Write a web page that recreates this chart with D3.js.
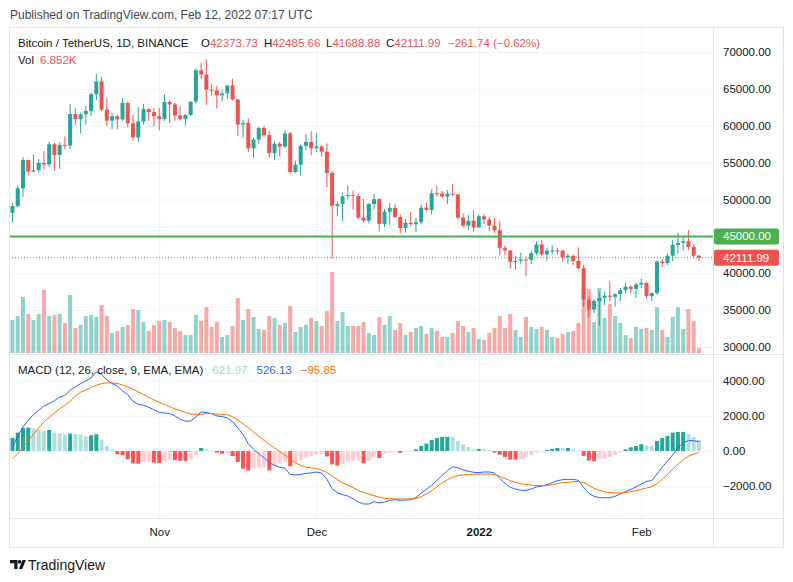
<!DOCTYPE html>
<html>
<head>
<meta charset="utf-8">
<script src="https://cdn.jsdelivr.net/npm/d3@7"></script>
<style>
  body { margin: 0; background: #fff; }
  svg { display: block; font-family: "Liberation Sans", Arial, sans-serif; }
</style>
</head>
<body>
<svg id="chart" width="793" height="582"></svg>
<script>
// ---- data (BTC/USDT daily, Binance) ----
var firstDay = new Date(Date.UTC(2021, 9, 4));
var lastDay = new Date(Date.UTC(2022, 1, 12));

var opens = [
  48200, 49113, 51514, 55361, 53805, 53967, 54968, 54771, 57484, 56041,
  57401, 57321, 61593, 60892, 61553, 62010, 64280, 66002, 62194, 60688,
  61286, 60852, 63078, 60328, 58413, 60575, 62253, 61859, 61300, 60911,
  63219, 62896, 61395, 60937, 61470, 63273, 67525, 66947, 64882, 64774,
  64122, 64380, 65466, 63557, 60161, 60368, 56942, 58119, 59697, 58730,
  56289, 57570, 57176, 58960, 53727, 54722, 57275, 57806, 56950, 57184,
  56481, 53601, 49153, 49397, 50441, 50589, 50472, 47546, 47140, 49390,
  50054, 46703, 48344, 48864, 47632, 46131, 46835, 46681, 46915, 48890,
  48589, 50839, 50820, 50400, 50775, 50701, 47543, 46464, 47120, 46216,
  47722, 47286, 46446, 45832, 43451, 43082, 41566, 41679, 41864, 41822,
  42729, 43902, 42560, 43059, 43084, 43071, 42201, 42352, 41660, 40680,
  36445, 35071, 36244, 36660, 36958, 36809, 37160, 37716, 38166, 37881,
  38466, 38690, 36896, 37311, 41574, 41382, 42380, 43840, 44118, 44338,
  43565, 42373.73
];
var highs = [
  49536, 51886, 55750, 55400, 56100, 55489, 56561, 57839, 57680, 57751,
  58550, 62933, 62360, 61720, 62674, 64486, 67000, 66639, 63732, 61747,
  61490, 63710, 63293, 61497, 62499, 62980, 62359, 62405, 62437, 64270,
  63500, 63086, 62595, 61560, 63286, 67789, 68530, 69000, 65600, 65460,
  64915, 65495, 66401, 63617, 60817, 60976, 58366, 59859, 60000, 59266,
  57875, 57800, 59398, 59176, 55281, 57445, 58865, 59249, 59041, 57375,
  57600, 53904, 49700, 50891, 51936, 51200, 50797, 50099, 49485, 50777,
  50189, 48700, 49500, 49436, 48004, 47360, 48300, 47537, 49328, 49576,
  51375, 51869, 51156, 51281, 52088, 50704, 48119, 47900, 48548, 47954,
  47990, 47570, 47505, 47070, 43748, 43145, 42300, 42786, 42248, 43100,
  44322, 44500, 43459, 43800, 43475, 43176, 42691, 42559, 43505, 41100,
  36835, 36499, 37550, 37545, 38919, 37234, 38000, 38720, 38359, 38744,
  39265, 38855, 37387, 41772, 41913, 42656, 44500, 45492, 44799, 45821,
  43920, 42485.66
];
var lows = [
  46891, 49000, 50382, 53357, 53650, 53661, 54080, 54415, 53879, 54167,
  56818, 56850, 60122, 58963, 60150, 61322, 63481, 62000, 60000, 59562,
  59510, 60650, 59817, 58000, 57820, 60174, 60673, 59945, 59405, 60624,
  60382, 60677, 60721, 60050, 61322, 63000, 66382, 62822, 64100, 62333,
  63303, 63647, 63400, 58574, 58373, 56474, 55625, 57469, 58486, 55679,
  55317, 55837, 57000, 53500, 53610, 53256, 56666, 56000, 56458, 55777,
  51680, 42000, 47727, 47100, 50039, 48600, 47320, 46852, 46751, 48639,
  45672, 46290, 46547, 47511, 45456, 45500, 46406, 45558, 46630, 48421,
  47920, 50387, 50171, 49412, 50449, 47313, 46201, 45900, 45678, 46208,
  46654, 45696, 45500, 42500, 42430, 40610, 40501, 41200, 39650, 41268,
  42450, 42311, 41725, 42578, 42581, 41540, 41250, 41138, 40553, 35440,
  34008, 34601, 32917, 35701, 36234, 35507, 36155, 37268, 37351, 36632,
  38000, 36586, 36250, 37055, 40843, 41116, 41645, 42666, 43117, 43174,
  42000, 41688.88
];
var closes = [
  49113, 51514, 55361, 53805, 53967, 54968, 54771, 57484, 56041, 57401,
  57321, 61593, 60892, 61553, 62010, 64280, 66002, 62194, 60688, 61286,
  60852, 63078, 60328, 58413, 60575, 62253, 61859, 61300, 60911, 63219,
  62896, 61395, 60937, 61470, 63273, 67525, 66947, 64882, 64774, 64122,
  64380, 65466, 63557, 60161, 60368, 56942, 58119, 59697, 58730, 56289,
  57570, 57176, 58960, 53727, 54722, 57275, 57806, 56950, 57184, 56481,
  53601, 49153, 49397, 50441, 50589, 50472, 47546, 47140, 49390, 50054,
  46703, 48344, 48864, 47632, 46131, 46835, 46681, 46915, 48890, 48589,
  50839, 50820, 50400, 50775, 50701, 47543, 46464, 47120, 46216, 47722,
  47286, 46446, 45832, 43451, 43082, 41566, 41679, 41864, 41822, 42729,
  43902, 42560, 43059, 43084, 43071, 42201, 42352, 41660, 40680, 36445,
  35071, 36244, 36660, 36958, 36809, 37160, 37716, 38166, 37881, 38466,
  38690, 36896, 37311, 41574, 41382, 42380, 43840, 44118, 44338, 43565,
  42373.73, 42111.99
];
// volume in thousands of BTC
var volumes = [
  43.6, 48.8, 73.9, 51.5, 43.6, 51.5, 83.2, 48.8, 50.2, 51.5,
  39.6, 76.6, 33.0, 37.0, 48.8, 50.2, 47.5, 63.4, 48.8, 26.4,
  29.0, 34.3, 37.0, 58.1, 56.8, 40.9, 29.0, 37.0, 42.2, 43.6,
  40.9, 33.0, 29.0, 23.8, 23.8, 50.2, 42.2, 60.7, 34.3, 40.9,
  21.1, 23.8, 35.6, 72.6, 43.6, 58.1, 47.5, 31.7, 30.4, 48.8,
  46.2, 37.0, 39.6, 62.0, 27.7, 34.3, 37.0, 46.2, 42.2, 35.6,
  55.4, 106.9, 42.2, 54.1, 35.6, 35.6, 35.6, 40.9, 26.4, 23.8,
  47.5, 37.0, 48.8, 30.4, 39.6, 23.8, 27.7, 33.0, 35.6, 25.1,
  33.0, 29.0, 21.1, 21.1, 26.4, 42.2, 35.6, 27.7, 33.0, 18.5,
  17.2, 26.4, 33.0, 48.8, 33.0, 51.5, 30.4, 21.1, 47.5, 34.3,
  31.7, 34.3, 30.4, 21.1, 19.8, 25.1, 27.7, 29.0, 39.6, 84.5,
  84.5, 40.9, 85.8, 46.2, 64.7, 48.8, 39.6, 23.8, 19.8, 34.3,
  31.7, 33.0, 30.4, 60.7, 30.4, 21.1, 47.5, 60.7, 31.7, 58.1,
  42.2, 6.852
];
var macdLine = [
  227, 852, 1364, 1742, 2064, 2311, 2557, 2689, 2860, 3049,
  3163, 3447, 3636, 3826, 3977, 4148, 4489, 4337, 4034, 3826,
  3693, 3409, 3201, 2822, 2652, 2595, 2481, 2349, 2178, 2159,
  2121, 1989, 1799, 1686, 1700, 1932, 2216, 2178, 2121, 1989,
  1951, 1875, 1667, 1307, 928, 417, 100, -152, -379, -663,
  -814, -928, -980, -1330, -1360, -1330, -1280, -1240, -1200, -1250,
  -1600, -2140, -2367, -2481, -2557, -2708, -2898, -3011, -3011, -2879,
  -2955, -2898, -2803, -2765, -2803, -2784, -2765, -2652, -2386, -2178,
  -1951, -1667, -1400, -1120, -900, -950, -1080, -1155, -1212, -1231,
  -1193, -1193, -1250, -1553, -1837, -2064, -2159, -2235, -2235, -2159,
  -2046, -1989, -1913, -1799, -1686, -1629, -1610, -1610, -1667, -2064,
  -2405, -2576, -2652, -2652, -2652, -2576, -2443, -2311, -2178, -2046,
  -1875, -1723, -1686, -1307, -928, -568, -227, 170, 455, 587,
  587, 526.13
];
var signalLine = [
  -436, -170, 208, 568, 947, 1307, 1648, 1913, 2159, 2386,
  2595, 2822, 3125, 3333, 3466, 3599, 3731, 3826, 3864, 3864,
  3826, 3750, 3636, 3504, 3352, 3201, 3049, 2898, 2765, 2633,
  2519, 2386, 2292, 2190, 2102, 2064, 2083, 2121, 2121, 2091,
  2072, 2055, 1939, 1761, 1542, 1318, 1083, 833, 606, 386,
  180, -19, -246, -468, -670, -824, -917, -962, -993, -1080,
  -1220, -1402, -1625, -1814, -1932, -2083, -2235, -2350, -2443, -2538,
  -2633, -2690, -2708, -2727, -2727, -2727, -2727, -2708, -2595, -2443,
  -2254, -2027, -1818, -1629, -1496, -1402, -1364, -1345, -1326, -1307,
  -1307, -1307, -1345, -1439, -1572, -1686, -1780, -1856, -1913, -1940,
  -1960, -1975, -1960, -1913, -1856, -1799, -1780, -1742, -1723, -1799,
  -1951, -2121, -2235, -2330, -2367, -2386, -2386, -2367, -2311, -2254,
  -2178, -2102, -2027, -1856, -1610, -1345, -1042, -758, -492, -303,
  -170, -95.85
];
var histogram = [
  739, 1042, 1307, 1326, 1288, 1231, 1155, 1193, 1042, 1004,
  947, 985, 966, 928, 833, 890, 947, 625, 284, 76,
  -190, -246, -473, -700, -720, -625, -610, -660, -680, -549,
  -511, -520, -560, -570, -470, -230, 170, 95, 20, -95,
  -150, -115, -285, -625, -1004, -1100, -966, -950, -930, -1100,
  -815, -720, -625, -870, -625, -530, -380, -300, -210, -180,
  -310, -760, -830, -720, -625, -587, -570, -700, -568, -340,
  -400, -170, -95, -55, -110, -55, 10, 95, 284, 417,
  625, 739, 795, 800, 790, 568, 360, 227, 76, 114,
  95, 57, -95, -208, -340, -490, -495, -470, -340, -246,
  -95, -40, 57, 114, 170, 165, 172, 95, 38, -284,
  -550, -590, -470, -430, -340, -227, -95, 95, 208, 284,
  379, 322, 300, 568, 739, 852, 1042, 1080, 1085, 966,
  795, 621.97
];

var priceTicks = [30000, 35000, 40000, 45000, 50000, 55000, 60000, 65000, 70000];
var macdTicks = [-2000, 0, 2000, 4000];
var monthStarts = [
  new Date(Date.UTC(2021, 10, 1)), new Date(Date.UTC(2021, 11, 1)),
  new Date(Date.UTC(2022, 0, 1)), new Date(Date.UTC(2022, 1, 1))
];
var monthLabels = ['Nov', 'Dec', '2022', 'Feb'];
var horizontalLevel = 45000;
var lastPrice = 42111.99;

// ---- look ----
var upColor = '#26A69A';
var downColor = '#EF5350';
var volUp = 'rgba(38,166,154,0.5)';
var volDown = 'rgba(239,83,80,0.5)';
var gridColor = '#F0F3FA';
var borderColor = '#E0E3EB';
var textColor = '#131722';
var labelSize = '11.5px';

var frame = { left: 9, right: 783, top: 27, bottom: 547 };
var plotRight = 713;
var mainBottom = 354;
var macdBottom = 518;

var svg = d3.select('#chart');
var fmt = d3.format('.2f');

var days = d3.utcDay.range(firstDay, d3.utcDay.offset(lastDay, 1));
var bars = days.map(function (d, i) {
  return {
    date: d, o: opens[i], h: highs[i], l: lows[i], c: closes[i], v: volumes[i],
    macd: macdLine[i], signal: signalLine[i], hist: histogram[i],
    prevHist: i > 0 ? histogram[i - 1] : null
  };
});

var x = d3.scaleUtc().domain([firstDay, lastDay]).range([12.5, 698.9]);
var yPrice = d3.scaleLinear().domain([30000, 70000]).range([347, 52]);
var yVol = d3.scaleLinear().domain([0, d3.max(volumes)]).range([353, 272]);
var yMacd = d3.scaleLinear().domain([-2000, 4000]).range([486.2, 380.5]);

/**
 * Strips the domain path and restyles tick lines of a grid axis
 */
function styleGrid(g) {
  g.select('.domain').remove();
  g.selectAll('text').remove();
  g.selectAll('line').attr('stroke', gridColor);
}

/**
 * Restyles the labels of a value axis
 */
function styleLabels(g) {
  g.select('.domain').remove();
  g.selectAll('line').remove();
  g.attr('font-family', null).attr('font-size', null);
  g.selectAll('text').attr('fill', textColor).style('font-size', labelSize);
}

// background + grid
svg.append('rect').attr('width', 793).attr('height', 582).attr('fill', '#fff');

svg.append('g')
  .attr('transform', 'translate(' + frame.left + ',0)')
  .call(d3.axisRight(yPrice).tickValues(priceTicks).tickSize(plotRight - frame.left))
  .call(styleGrid);

svg.append('g')
  .attr('transform', 'translate(' + frame.left + ',0)')
  .call(d3.axisRight(yMacd).tickValues(macdTicks).tickSize(plotRight - frame.left))
  .call(styleGrid);

svg.append('g')
  .attr('transform', 'translate(0,' + frame.top + ')')
  .call(d3.axisBottom(x).tickValues(monthStarts).tickSize(macdBottom - frame.top))
  .call(styleGrid);

// main pane: volume overlay, candles
var main = svg.append('g');

main.selectAll('rect.vol').data(bars).join('rect')
  .attr('class', 'vol')
  .attr('x', function (d) { return x(d.date) - 2; })
  .attr('width', 4)
  .attr('y', function (d) { return yVol(d.v); })
  .attr('height', function (d) { return yVol(0) - yVol(d.v); })
  .attr('fill', function (d) { return d.c >= d.o ? volUp : volDown; });

var candle = main.selectAll('g.candle').data(bars).join('g').attr('class', 'candle');

candle.append('line')
  .attr('x1', function (d) { return x(d.date); })
  .attr('x2', function (d) { return x(d.date); })
  .attr('y1', function (d) { return yPrice(d.h); })
  .attr('y2', function (d) { return yPrice(d.l); })
  .attr('stroke', function (d) { return d.c >= d.o ? upColor : downColor; })
  .attr('stroke-width', 1);

candle.append('rect')
  .attr('x', function (d) { return x(d.date) - 2; })
  .attr('width', 4)
  .attr('y', function (d) { return yPrice(Math.max(d.o, d.c)); })
  .attr('height', function (d) { return Math.max(1, Math.abs(yPrice(d.o) - yPrice(d.c))); })
  .attr('fill', function (d) { return d.c >= d.o ? upColor : downColor; });

// horizontal level and last price line
main.append('line')
  .attr('x1', frame.left).attr('x2', plotRight)
  .attr('y1', yPrice(horizontalLevel)).attr('y2', yPrice(horizontalLevel))
  .attr('stroke', '#4CAF50').attr('stroke-width', 2);

main.append('line')
  .attr('x1', frame.left).attr('x2', plotRight)
  .attr('y1', yPrice(lastPrice)).attr('y2', yPrice(lastPrice))
  .attr('stroke', downColor).attr('stroke-width', 1)
  .attr('stroke-dasharray', '1,2');

// MACD pane
var macd = svg.append('g');

macd.selectAll('rect.hist').data(bars).join('rect')
  .attr('class', 'hist')
  .attr('x', function (d) { return x(d.date) - 2; })
  .attr('width', 4)
  .attr('y', function (d) { return yMacd(Math.max(0, d.hist)); })
  .attr('height', function (d) { return Math.abs(yMacd(d.hist) - yMacd(0)); })
  .attr('fill', function (d) {
    var rising = d.prevHist === null || d.hist > d.prevHist;
    if (d.hist >= 0) return rising ? '#26A69A' : '#B2DFDB';
    return rising ? '#FFCDD2' : '#FF5252';
  });

var macdPath = d3.line()
  .x(function (d) { return x(d.date); })
  .y(function (d) { return yMacd(d.macd); });
var signalPath = d3.line()
  .x(function (d) { return x(d.date); })
  .y(function (d) { return yMacd(d.signal); });

macd.append('path').datum(bars).attr('d', macdPath)
  .attr('fill', 'none').attr('stroke', '#2962FF').attr('stroke-width', 1);
macd.append('path').datum(bars).attr('d', signalPath)
  .attr('fill', 'none').attr('stroke', '#FF6D00').attr('stroke-width', 1);

// frame and separators
svg.append('rect')
  .attr('x', frame.left + 0.5).attr('y', frame.top + 0.5)
  .attr('width', frame.right - frame.left).attr('height', frame.bottom - frame.top)
  .attr('fill', 'none').attr('stroke', borderColor);
[mainBottom, macdBottom].forEach(function (yy) {
  svg.append('line')
    .attr('x1', frame.left).attr('x2', frame.right + 0.5)
    .attr('y1', yy + 0.5).attr('y2', yy + 0.5)
    .attr('stroke', borderColor);
});
svg.append('line')
  .attr('x1', plotRight + 0.5).attr('x2', plotRight + 0.5)
  .attr('y1', frame.top).attr('y2', frame.bottom)
  .attr('stroke', borderColor);

// axes labels
svg.append('g')
  .attr('transform', 'translate(' + plotRight + ',0)')
  .call(d3.axisRight(yPrice).tickValues(priceTicks).tickSize(0).tickPadding(10).tickFormat(fmt))
  .call(styleLabels);

svg.append('g')
  .attr('transform', 'translate(' + plotRight + ',0)')
  .call(d3.axisRight(yMacd).tickValues(macdTicks).tickSize(0).tickPadding(10).tickFormat(fmt))
  .call(styleLabels);

svg.append('g')
  .attr('transform', 'translate(0,' + macdBottom + ')')
  .call(d3.axisBottom(x).tickValues(monthStarts).tickSize(0).tickPadding(10)
    .tickFormat(function (d, i) { return monthLabels[i]; }))
  .call(styleLabels)
  .call(function (g) {
    g.selectAll('text').filter(function (d, i) { return monthLabels[i] === '2022'; })
      .style('font-weight', 'bold');
  });

// price tags on the axis
function priceTag(value, color) {
  var yy = yPrice(value);
  svg.append('rect')
    .attr('x', plotRight + 1).attr('y', yy - 8)
    .attr('width', 65).attr('height', 16).attr('rx', 2)
    .attr('fill', color);
  svg.append('text')
    .attr('x', plotRight + 10).attr('y', yy).attr('dy', '0.35em')
    .attr('fill', '#fff').style('font-size', labelSize)
    .text(fmt(value));
}
priceTag(horizontalLevel, '#4CAF50');
priceTag(lastPrice, downColor);

// header, legends, footer
svg.append('text').attr('x', 10).attr('y', 19)
  .attr('fill', '#434651').style('font-size', '12px')
  .text('Published on TradingView.com, Feb 12, 2022 07:17 UTC');

var last = bars[bars.length - 1];
var change = last.c - last.o;
var legend = svg.append('g').style('font-size', labelSize);
legend.append('text').attr('x', 18).attr('y', 47).attr('fill', textColor)
  .text('Bitcoin / TetherUS, 1D, BINANCE');

[['O', last.o, 201], ['H', last.h, 264], ['L', last.l, 326], ['C', last.c, 386]].forEach(function (p) {
  var t = legend.append('text').attr('x', p[2]).attr('y', 47).attr('fill', textColor);
  t.append('tspan').text(p[0]);
  t.append('tspan').attr('fill', downColor).text(fmt(p[1]));
});
legend.append('text').attr('x', 448).attr('y', 47).attr('fill', downColor)
  .text(fmt(change) + ' (' + fmt(change / last.o * 100) + '%)');

var volText = legend.append('text').attr('x', 18).attr('y', 64).attr('fill', textColor);
volText.append('tspan').text('Vol');
volText.append('tspan').attr('dx', 6).attr('fill', downColor).text(d3.format('.3f')(last.v) + 'K');

var macdText = legend.append('text').attr('x', 18).attr('y', 374).attr('fill', textColor);
macdText.append('tspan').text('MACD (12, 26, close, 9, EMA, EMA)');
macdText.append('tspan').attr('dx', 9).attr('fill', '#A3D9D2').text(fmt(last.hist));
macdText.append('tspan').attr('dx', 9).attr('fill', '#2962FF').text(fmt(last.macd));
macdText.append('tspan').attr('dx', 9).attr('fill', '#FF6D00').text(fmt(last.signal));

// TradingView logo mark + name
var logo = svg.append('g').attr('fill', textColor);
logo.append('path').attr('d', 'M10,560h7.5v9h-3.2v-5.8h-4.3z');
logo.append('circle').attr('cx', 19.6).attr('cy', 561.9).attr('r', 1.8);
logo.append('path').attr('d', 'M22.6,560h3.3l-3.7,9h-3.3z');
svg.append('text').attr('x', 28).attr('y', 570).attr('fill', textColor)
  .style('font-size', '14px').text('TradingView');
</script>
</body>
</html>
